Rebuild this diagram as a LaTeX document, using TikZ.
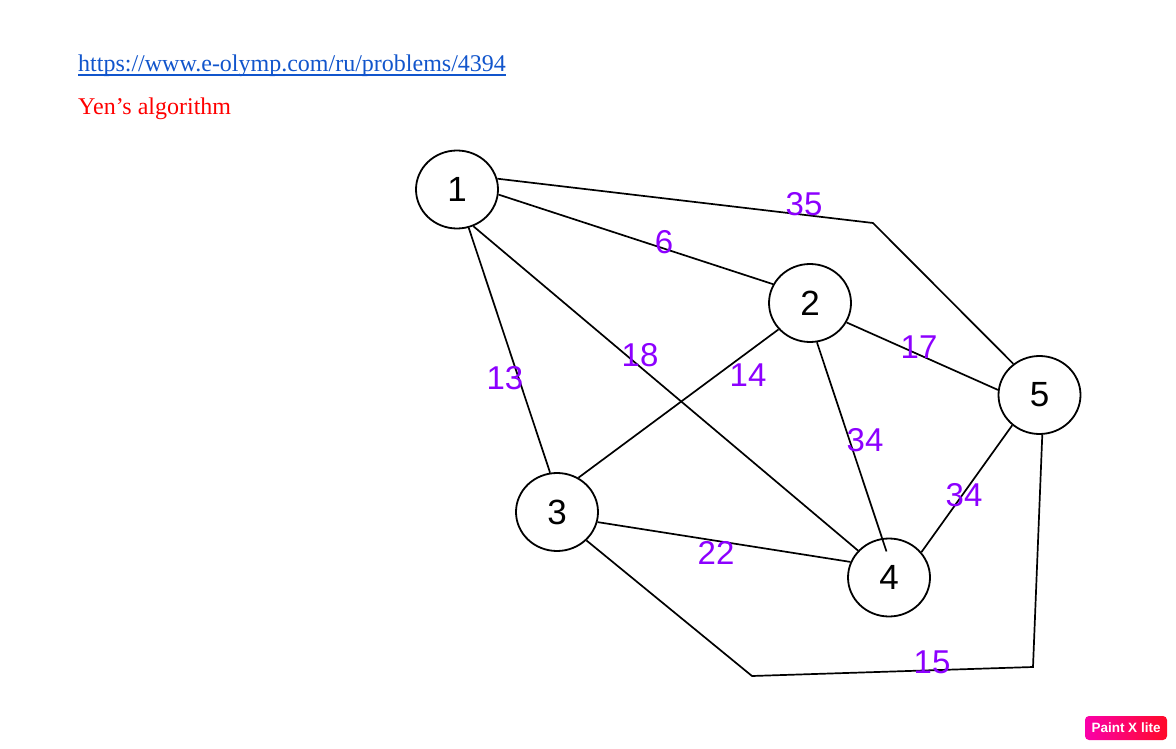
\documentclass[tikz,border=0pt]{standalone}
\usepackage{fontspec}
\setmainfont{Liberation Serif}
\newfontfamily\graphfont{Liberation Sans}
\usetikzlibrary{shapes.geometric}
\definecolor{linkblue}{RGB}{17,85,204}
\definecolor{weightviolet}{RGB}{140,0,255}
\definecolor{badgeL}{RGB}{250,0,170}
\definecolor{badgeR}{RGB}{255,10,40}
\tikzset{
  vertex/.style={ellipse, draw, line width=1.8pt, minimum width=82pt, minimum height=78pt,
    inner sep=0pt, font=\graphfont\fontsize{35}{35}\selectfont},
  edge/.style={line width=1.7pt, line join=miter},
  weight/.style={text=weightviolet, inner sep=0pt, font=\graphfont\fontsize{33}{33}\selectfont},
}
\begin{document}
\begin{tikzpicture}[x=1pt, y=-1pt]
\useasboundingbox (0,0) rectangle (1176,749);

% header texts
\node[anchor=base west, inner sep=0pt, text=linkblue, font=\fontsize{24}{24}\selectfont]
  (url) at (78,71.5) {https://www.e-olymp.com/ru/problems/4394};
\draw[linkblue, line width=1.2pt] ([yshift=-3.5pt]url.base west) -- ([yshift=-3.5pt]url.base east);
\node[anchor=base west, inner sep=0pt, text=red, font=\fontsize{24}{24}\selectfont]
  (title) at (78,114.5) {Yen’s algorithm};

% vertices
\node[vertex] (n1) at (457,189.5) {1};
\node[vertex] (n2) at (810,303) {2};
\node[vertex] (n3) at (557,512) {3};
\node[vertex] (n4) at (889,577.5) {4};
\node[vertex] (n5) at (1039.5,395) {5};

% bend points of the routed edges
\coordinate (b15) at (873,223);
\coordinate (b35a) at (752,676);
\coordinate (b35b) at (1033,667);

% edges
\draw[edge] (n1.15.7) -- (b15) -- (n5.130);
\draw[edge] (n1.-7.5) -- (n2.153);
\draw[edge] (n1.-73) -- (n3.100);
\draw[edge] (n1.-66) -- (n4.139);
\draw[edge] (n2.-28) -- (n5.173);
\draw[edge] (n2.220) -- (n3.58);
\draw[edge, shorten >=-14pt] (n2.-80) -- (n4.100);
\draw[edge] (n3.-14) -- (n4.158);
\draw[edge] (n3.-44) -- (b35a) -- (b35b) -- (n5.-86.5);
\draw[edge] (n4.38.6) -- (n5.228);

% edge weights
\node[weight] (w15) at (804,204) {35};
\node[weight] (w12) at (664,242) {6};
\node[weight] (w13) at (505,378) {13};
\node[weight] (w14) at (640,355) {18};
\node[weight] (w23) at (748,375) {14};
\node[weight] (w25) at (919,347) {17};
\node[weight] (w24) at (865,440) {34};
\node[weight] (w45) at (964,495) {34};
\node[weight] (w34) at (716,553) {22};
\node[weight] (w35) at (932,662) {15};

% badge
\node[rounded corners=4pt, shade, left color=badgeL, right color=badgeR,
  minimum width=82pt, minimum height=24pt, inner sep=0pt, text=white,
  font=\graphfont\bfseries\fontsize{13.5}{13.5}\selectfont] (badge) at (1126,728) {Paint X lite};
\end{tikzpicture}
\end{document}
